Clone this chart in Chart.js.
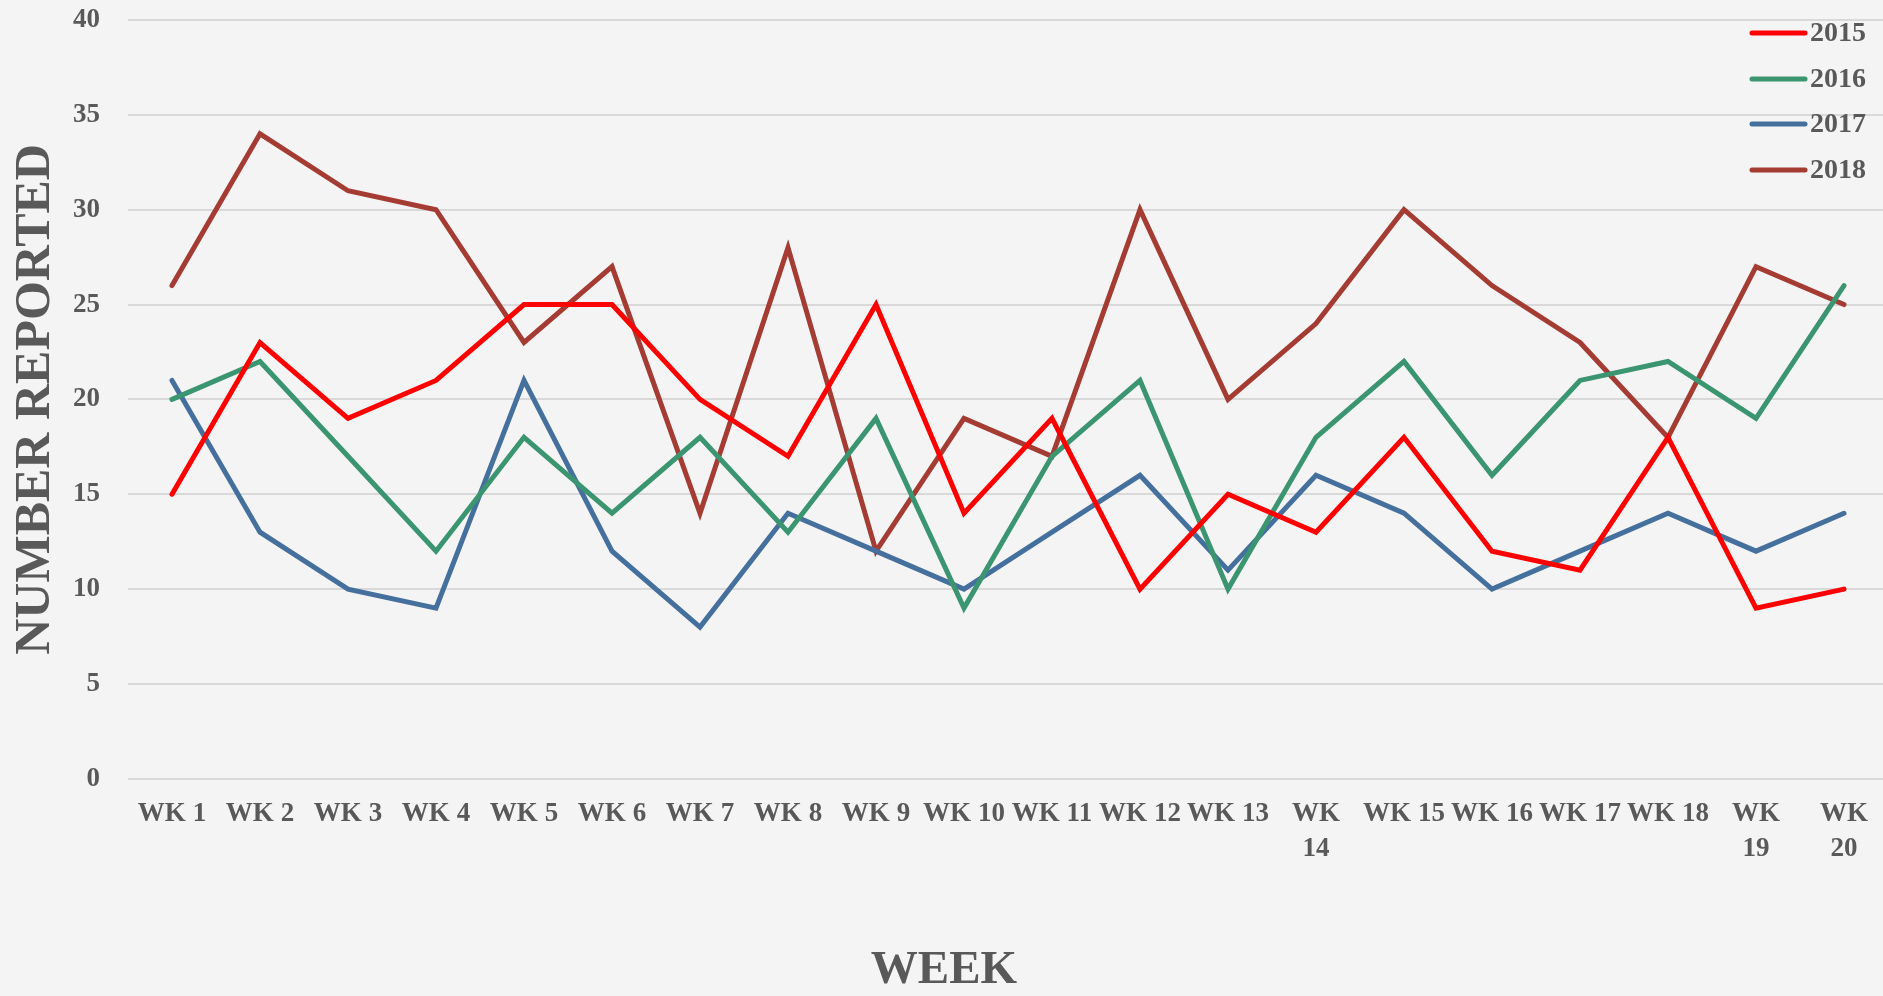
<!DOCTYPE html>
<html lang="en">
<head>
  <meta charset="UTF-8">
  <title>Number Reported by Week</title>
  <style>
    body {
      margin: 0;
      background: #f4f4f4;
      overflow: hidden;
    }
    #wrap {
      width: 1883px;
      height: 996px;
      overflow: hidden;
    }
  </style>
</head>
<body>

  <div id="wrap">
    <!-- un poco mas ancho que la ventana: el area del grafico llega hasta el borde -->
    <canvas id="myChart" width="1888" height="996"></canvas>
  </div>

  <script src="https://cdn.jsdelivr.net/npm/chart.js"></script>
  <script>
    // Datos
    var weeks = ['WK 1', 'WK 2', 'WK 3', 'WK 4', 'WK 5', 'WK 6', 'WK 7', 'WK 8', 'WK 9', 'WK 10',
                 'WK 11', 'WK 12', 'WK 13', ['WK', '14'], 'WK 15', 'WK 16', 'WK 17', 'WK 18', ['WK', '19'], ['WK', '20']];
    var years = ['2015', '2016', '2017', '2018'];
    var colors = ['#ff0000', '#3b9570', '#45709e', '#a43c33'];

    var y2015 = [15, 23, 19, 21, 25, 25, 20, 17, 25, 14, 19, 10, 15, 13, 18, 12, 11, 18, 9, 10];
    var y2016 = [20, 22, 17, 12, 18, 14, 18, 13, 19, 9, 17, 21, 10, 18, 22, 16, 21, 22, 19, 26];
    var y2017 = [21, 13, 10, 9, 21, 12, 8, 14, 12, 10, 13, 16, 11, 16, 14, 10, 12, 14, 12, 14];
    var y2018 = [26, 34, 31, 30, 23, 27, 14, 28, 12, 19, 17, 30, 20, 24, 30, 26, 23, 18, 27, 25];
    var seriesData = [y2015, y2016, y2017, y2018];

    var textColor = '#595959';
    var serif = "'Liberation Serif', 'Times New Roman', serif";

    // fondo gris claro
    var bgPlugin = {
      id: 'bg',
      beforeDraw: function(chart) {
        var c = chart.ctx;
        c.save();
        c.fillStyle = '#f4f4f4';
        c.fillRect(0, 0, chart.width, chart.height);
        c.restore();
      }
    };

    // leyenda arriba a la derecha, dentro del area del grafico
    var legendPlugin = {
      id: 'cornerLegend',
      afterDraw: function(chart) {
        var c = chart.ctx;
        var rows = [33, 79, 124, 170];
        c.save();
        c.font = 'bold 28px ' + serif;
        c.textAlign = 'left';
        c.textBaseline = 'middle';
        for (var i = 0; i < years.length; i++) {
          c.strokeStyle = colors[i];
          c.lineWidth = 5;
          c.lineCap = 'round';
          c.beginPath();
          c.moveTo(1752, rows[i]);
          c.lineTo(1805, rows[i]);
          c.stroke();
          c.fillStyle = textColor;
          c.fillText(years[i], 1810, rows[i] + 1);
        }
        c.restore();
      }
    };

    var ctx = document.getElementById('myChart').getContext('2d');
    var myChart = new Chart(ctx, {
      type: 'line',
      data: {
        labels: weeks,
        datasets: years.map(function(y, i) {
          return {
            label: y,
            data: seriesData[i],
            borderColor: colors[i],
            backgroundColor: colors[i],
            borderWidth: 5,
            borderCapStyle: 'round',
            pointRadius: 0,
            tension: 0,
            fill: false
          };
        })
      },
      options: {
        responsive: false,
        animation: false,
        layout: {
          padding: { top: 20, right: 0, left: 0, bottom: 0 }
        },
        plugins: {
          legend: { display: false },
          tooltip: { enabled: false },
          title: {
            display: true,
            text: 'WEEK',
            position: 'bottom',
            color: textColor,
            font: { family: serif, size: 47, weight: 'bold', lineHeight: 1 },
            padding: { top: 62, bottom: 2 }
          }
        },
        scales: {
          x: {
            offset: true,
            grid: { display: false, drawTicks: false },
            border: { display: false },
            ticks: {
              color: textColor,
              font: { family: serif, size: 27, weight: 'bold', lineHeight: 1.3 },
              padding: 18,
              maxRotation: 0,
              minRotation: 0,
              autoSkip: false
            }
          },
          y: {
            min: 0,
            max: 40,
            afterFit: function(scale) {
              scale.width = 128;
              scale.paddingTop = 0;
              scale.paddingBottom = 0;
            },
            grid: { color: '#d9d9d9', lineWidth: 2, drawTicks: false },
            border: { display: false },
            ticks: {
              stepSize: 5,
              color: textColor,
              font: { family: serif, size: 27, weight: 'bold' },
              padding: 28
            },
            title: {
              display: true,
              text: 'NUMBER REPORTED',
              color: textColor,
              font: { family: serif, size: 50, weight: 'bold', lineHeight: 1.2 },
              padding: { top: 6, bottom: 8 }
            }
          }
        }
      },
      plugins: [bgPlugin, legendPlugin]
    });
  </script>

</body>
</html>
